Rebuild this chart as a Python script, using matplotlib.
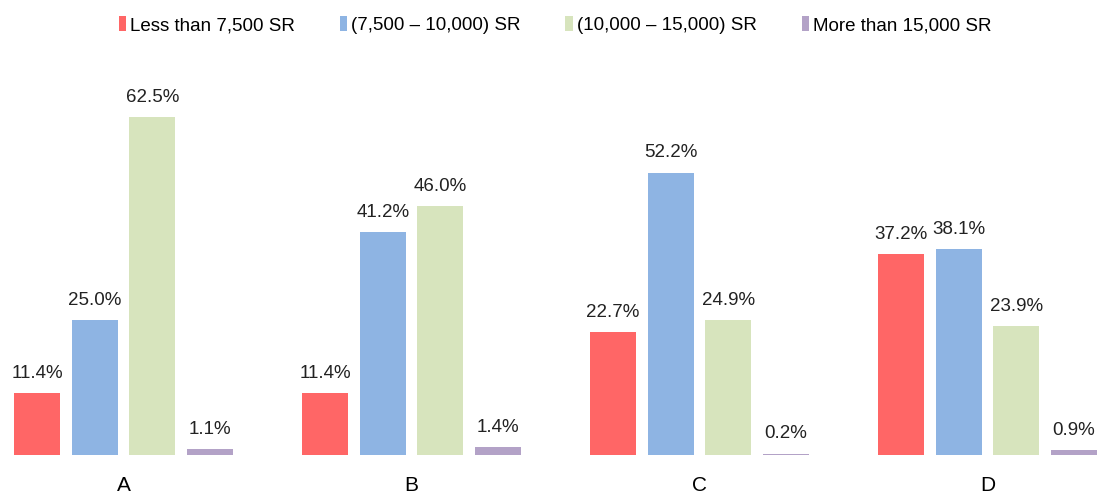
import matplotlib
matplotlib.use('Agg')
import matplotlib.pyplot as plt
import numpy as np
from matplotlib.patches import Patch

plt.rcParams['font.family'] = ['Liberation Sans', 'DejaVu Sans']

# data
groups = ['A', 'B', 'C', 'D']
series = ['Less than 7,500 SR', '(7,500 – 10,000) SR', '(10,000 – 15,000) SR', 'More than 15,000 SR']
less_7500 = [11.4, 11.4, 22.7, 37.2]
r7500_10000 = [25.0, 41.2, 52.2, 38.1]
r10000_15000 = [62.5, 46.0, 24.9, 23.9]
more_15000 = [1.1, 1.4, 0.2, 0.9]
colors = ['#FF6666', '#8EB4E3', '#D7E4BD', '#B3A2C7']

values = [less_7500, r7500_10000, r10000_15000, more_15000]

fig = plt.figure(figsize=(10.99, 4.94), dpi=100)
ax = fig.add_axes([0, 39/494, 1, 395/494])
fig.patch.set_facecolor('white')

x = np.arange(len(groups))
step, width = 0.2, 0.16
for i, (vals, c) in enumerate(zip(values, colors)):
    pos = x + (i - 1.5) * step
    bars = ax.bar(pos, vals, width, color=c, edgecolor='none', label=series[i])
    for b, v in zip(bars, vals):
        ax.annotate(f'{v:.1f}%', (b.get_x() + b.get_width()/2, max(v, 0.35)),
                    xytext=(0, 8), textcoords='offset points',
                    ha='center', va='bottom', fontsize=13.5, color='#222222')

ax.set_xlim(-0.429, 3.387)
ax.set_ylim(0, 73)
for s in ax.spines.values():
    s.set_visible(False)
ax.set_yticks([])
ax.set_xticks(x)
ax.set_xticklabels(groups, fontsize=15)
ax.tick_params(axis='x', length=0, pad=15)

handles = [Patch(facecolor=c, edgecolor='none', label=s) for s, c in zip(series, colors)]
fig.legend(handles=handles, loc='center', bbox_to_anchor=(0.505, 1 - 25/494), ncol=4,
           frameon=False, fontsize=13.5, handlelength=0.4, handleheight=0.9,
           handletextpad=0.2, columnspacing=2.4)

fig.savefig('out.png', dpi=100, facecolor='white')
